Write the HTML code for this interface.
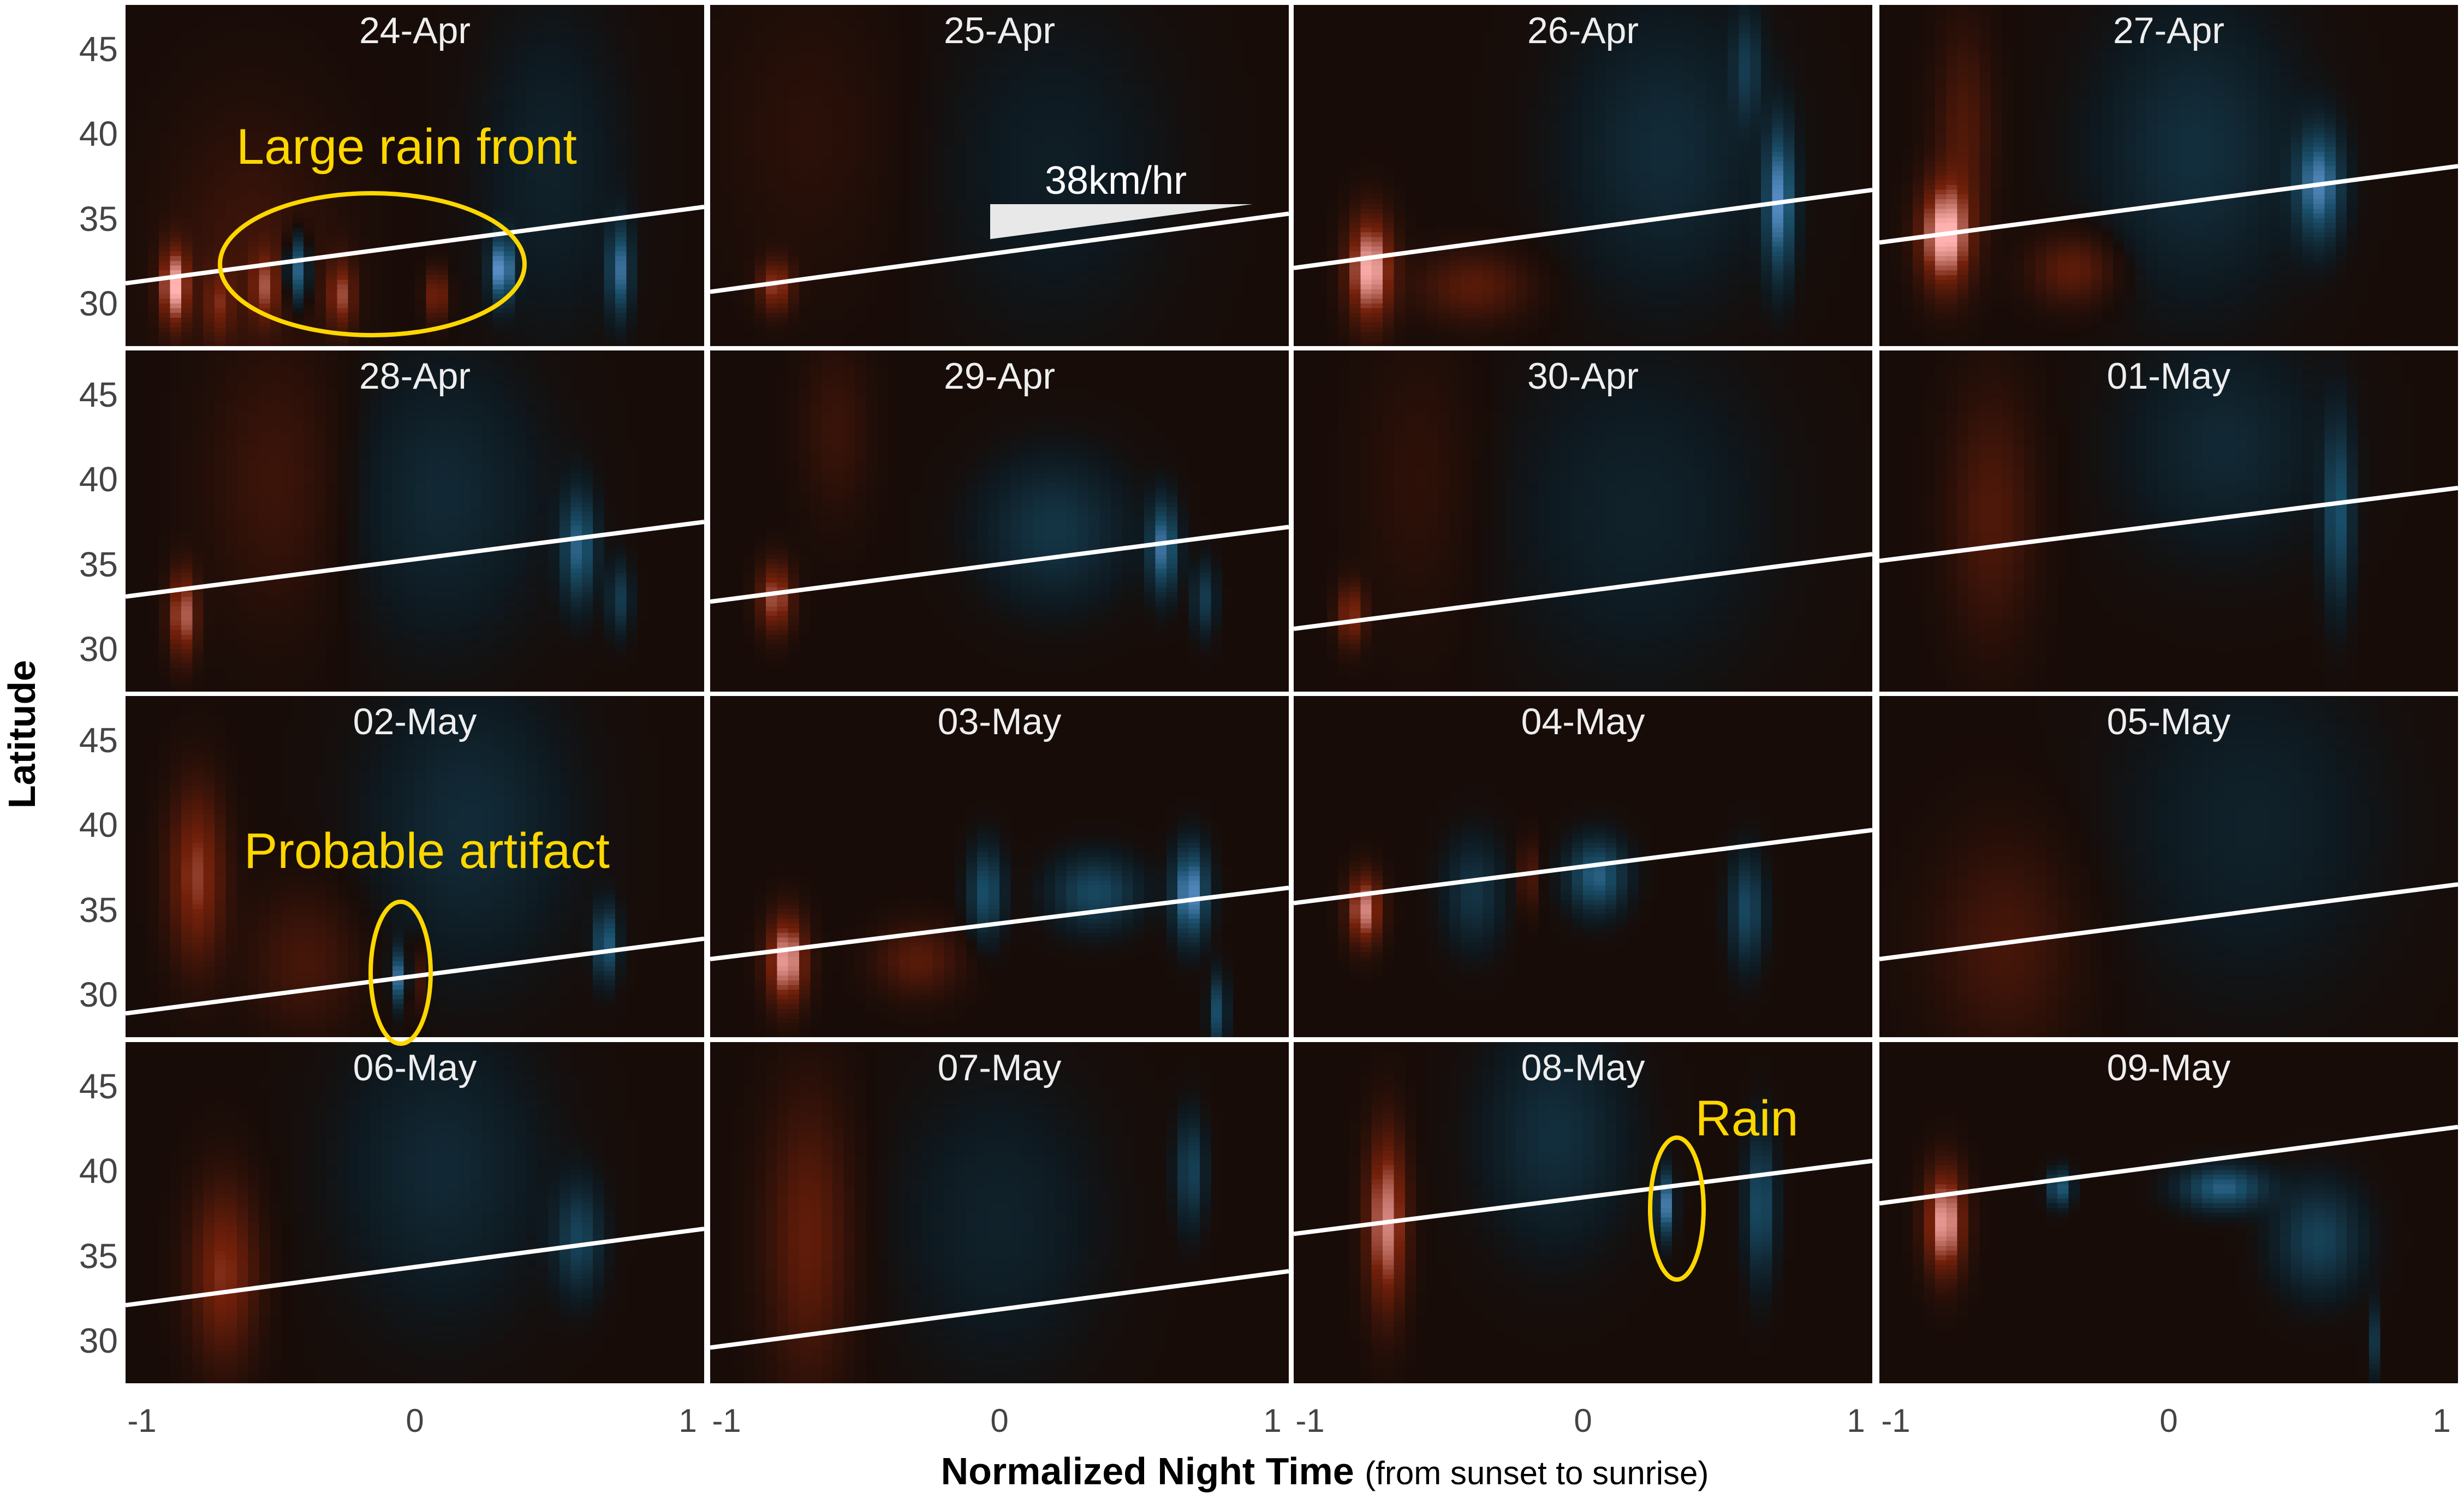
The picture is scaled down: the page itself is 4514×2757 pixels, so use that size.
<!DOCTYPE html>
<html><head><meta charset="utf-8">
<style>
body{margin:0;background:#fff;width:4514px;height:2757px;overflow:hidden;position:relative;font-family:"Liberation Sans",sans-serif}
.panel{position:absolute;width:1060px;height:625px;background:#180c08}
.panel canvas{position:absolute;left:0;top:0;width:1060px;height:625px;image-rendering:pixelated}
.panel svg{position:absolute;left:0;top:0}
.ttl{position:absolute;left:0;width:1060px;top:8px;text-align:center;color:#eee;font-size:68px}
.yt{position:absolute;width:100px;text-align:right;color:#444;font-size:64px;left:116px}
.xt{position:absolute;width:120px;text-align:center;color:#444;font-size:60px;top:2568px}
</style></head><body>
<div id="root"></div>
<div style="position:absolute;top:2655px;left:0;width:4514px;text-align:center;font-size:70px;color:#000;padding-left:340px;box-sizing:border-box"><b>Normalized Night Time</b> <span style="font-size:60px">(from sunset to sunrise)</span></div>
<div style="position:absolute;left:40px;top:1345px;transform:translate(-50%,-50%) rotate(-90deg);font-size:70px;font-weight:bold;white-space:nowrap">Latitude</div>
<script>
const dates=["24-Apr","25-Apr","26-Apr","27-Apr","28-Apr","29-Apr","30-Apr","01-May","02-May","03-May","04-May","05-May","06-May","07-May","08-May","09-May"];
// front line latitude at x=-1.06 and x=1.06
const lineLeft=[31.2,30.7,32.1,33.6,33.1,32.8,31.2,35.2,28.9,32.1,35.4,32.1,32.1,29.6,36.3,38.1];
const lineRight=[35.7,35.3,36.7,38.1,37.5,37.2,35.6,39.5,33.3,36.3,39.7,36.5,36.6,34.1,40.6,42.6];
// streak features: [time, latitude, lat spread, signed amplitude (+red, -blue), time width]
const features=[
[[-0.88,31,2.2,0.95,0.05],[-0.72,30,2,0.4,0.05],[-0.55,31,2,0.5,0.05],[-0.43,32,2,-0.75,0.04],[-0.27,30.5,2,0.6,0.05],[0.08,30.5,1.5,0.55,0.04],[0.32,32,1.8,-0.9,0.04],[0.75,32,2.5,-0.65,0.04],[0.5,38,9,-0.15,0.25],[-0.6,33,8,0.2,0.3]],
[[-0.82,31,1.5,0.6,0.06],[0.2,38,9,-0.12,0.4],[-0.7,40,8,0.1,0.3]],
[[-0.78,32,3,1.0,0.08],[-0.4,31,2,0.35,0.2],[0.72,36,4,-0.8,0.05],[0.3,39,8,-0.22,0.35],[0.6,44,3,-0.3,0.05]],
[[-0.82,34,3,1.0,0.09],[-0.35,32,2,0.4,0.15],[0.55,37,3,-0.75,0.08],[0.1,39,8,-0.25,0.35],[-0.75,40,6,0.3,0.1]],
[[-0.85,32,2.5,0.75,0.05],[0.6,36,3,-0.6,0.06],[0.1,39,8,-0.2,0.35],[-0.5,40,8,0.2,0.25],[0.75,33,2,-0.35,0.04]],
[[-0.82,33,2,0.7,0.06],[0.6,36,2.5,-0.7,0.05],[0.2,37,4,-0.3,0.25],[-0.6,43,5,0.18,0.12],[0.75,33,2,-0.35,0.04]],
[[-0.85,32,1.8,0.55,0.05],[0.2,38,9,-0.15,0.45],[-0.6,40,8,0.12,0.2]],
[[-0.65,38,7,0.3,0.15],[0.62,38,5,-0.5,0.05],[0.2,42,6,-0.2,0.35]],
[[-0.8,37,5,0.6,0.1],[-0.05,31,1.5,-0.75,0.03],[0.0,31,2,0.4,0.03],[0.7,33,2,-0.6,0.04],[0.2,40,8,-0.22,0.35],[-0.4,32,4,0.25,0.2]],
[[-0.78,32,2.5,0.95,0.07],[0.7,36,2.5,-0.85,0.06],[-0.05,36,2.5,-0.5,0.06],[0.35,36,2,-0.45,0.15],[-0.3,32,2,0.35,0.15],[0.8,29,2,-0.5,0.03]],
[[-0.8,35,2,0.85,0.06],[0.05,37,2,-0.6,0.1],[-0.2,37,2,0.35,0.03],[0.6,35,3,-0.45,0.06],[-0.4,36,3,-0.3,0.1]],
[[-0.6,33,6,0.25,0.25],[0.3,40,9,-0.15,0.45]],
[[-0.7,34,5,0.55,0.12],[0.6,36,3,-0.4,0.08],[0.1,40,8,-0.2,0.35]],
[[-0.7,36,8,0.4,0.15],[0.7,40,3,-0.4,0.05],[0.0,37,8,-0.15,0.35]],
[[-0.72,37,5,0.85,0.07],[0.3,38,1.8,-0.75,0.03],[0.65,38,4,-0.5,0.05],[-0.1,42,6,-0.25,0.25]],
[[-0.82,37,3,0.95,0.07],[-0.4,39,1,-0.6,0.04],[0.2,39,1.2,-0.6,0.15],[0.55,36,3,-0.4,0.15],[0.75,30,2,-0.3,0.02]]
];
</script>
<script>
const W=1060,H=625,X0=-1.06,X1=1.06,L0=27.5,L1=47.6;
const colX=[230,1301,2370,3443],rowY=[9,642,1275,1909];
const xs=v=>(v-X0)/(X1-X0)*W, ys=v=>(L1-v)/(L1-L0)*H;
const root=document.getElementById('root');
const bg=[24,12,8],rm=[115,32,10],rp=[255,178,176],bm=[25,78,105],bp=[115,168,238],bz=[14,24,30];
function lerp(a,b,t){return a.map((v,i)=>v+(b[i]-v)*t);}
function col(v){
 if(v>=0){v=Math.min(v,1);return v<0.5?lerp(bg,rm,v/0.5):lerp(rm,rp,(v-0.5)/0.5);}
 v=Math.min(-v,1);return v<0.08?lerp(bg,bz,v/0.08):v<0.5?lerp(bz,bm,(v-0.08)/0.42):lerp(bm,bp,(v-0.5)/0.5);
}
const NC=52,NR=72;
dates.forEach((d,i)=>{
 const r=Math.floor(i/4),c=i%4;
 const p=document.createElement('div');p.className='panel';
 
 
 p.style.left=colX[c]+'px';p.style.top=rowY[r]+'px';
 const cv=document.createElement('canvas');cv.width=NC;cv.height=NR;
 
 
 const ctx=cv.getContext('2d');const img=ctx.createImageData(NC,NR);
 for(let y=0;y<NR;y++)for(let x=0;x<NC;x++){
  const t=X0+(x+0.5)/NC*(X1-X0),lat=L1-(y+0.5)/NR*(L1-L0);
  let v=0;
  features[i].forEach(f=>{const dx=(t-f[0])/f[4],dl=(lat-f[1])/f[2];v+=f[3]*Math.exp(-dx*dx-dl*dl);});
  const cc=col(v);const k=(y*NC+x)*4;
  img.data[k]=cc[0];img.data[k+1]=cc[1];img.data[k+2]=cc[2];img.data[k+3]=255;
 }
 ctx.putImageData(img,0,0);p.appendChild(cv);
 const ns='http://www.w3.org/2000/svg';
 const s=document.createElementNS(ns,'svg');s.setAttribute('width',W);s.setAttribute('height',H);
 const ln=document.createElementNS(ns,'line');
 
 
 ln.setAttribute('x1',xs(X0));ln.setAttribute('y1',ys(lineLeft[i]));
 ln.setAttribute('x2',xs(X1));ln.setAttribute('y2',ys(lineRight[i]));
 ln.setAttribute('stroke','#fff');ln.setAttribute('stroke-width','8');
 s.appendChild(ln);p.appendChild(s);
 const t=document.createElement('div');t.className='ttl';t.textContent=d;
 
 
 p.appendChild(t);
 root.appendChild(p);
 if(c==0)[45,40,35,30].forEach(v=>{const e=document.createElement('div');e.className='yt';e.textContent=v;
  
  
  e.style.top=(rowY[r]+ys(v)-37)+'px';root.appendChild(e);});
 if(r==3)[-1,0,1].forEach(v=>{const e=document.createElement('div');e.className='xt';e.textContent=v;
  
  
  e.style.left=(colX[c]+xs(v)-60)+'px';root.appendChild(e);});
});
</script>
<svg width="4514" height="2757" style="position:absolute;left:0;top:0;pointer-events:none" font-family="Liberation Sans, sans-serif">
<text x="745" y="300" text-anchor="middle" fill="#ffd700" font-size="92">Large rain front</text>
<ellipse cx="682" cy="484" rx="279" ry="130" fill="none" stroke="#ffd700" stroke-width="8"/>
<polygon points="1814,374 2295,374 1814,438" fill="#e8e8e8"/>
<text x="2044" y="355" text-anchor="middle" fill="#fff" font-size="72">38km/hr</text>
<text x="782" y="1590" text-anchor="middle" fill="#ffd700" font-size="92">Probable artifact</text>
<ellipse cx="734" cy="1782" rx="55" ry="130" fill="none" stroke="#ffd700" stroke-width="8"/>
<text x="3200" y="2080" text-anchor="middle" fill="#ffd700" font-size="92">Rain</text>
<ellipse cx="3072" cy="2214" rx="49" ry="130" fill="none" stroke="#ffd700" stroke-width="8"/>
</svg>
</body></html>
